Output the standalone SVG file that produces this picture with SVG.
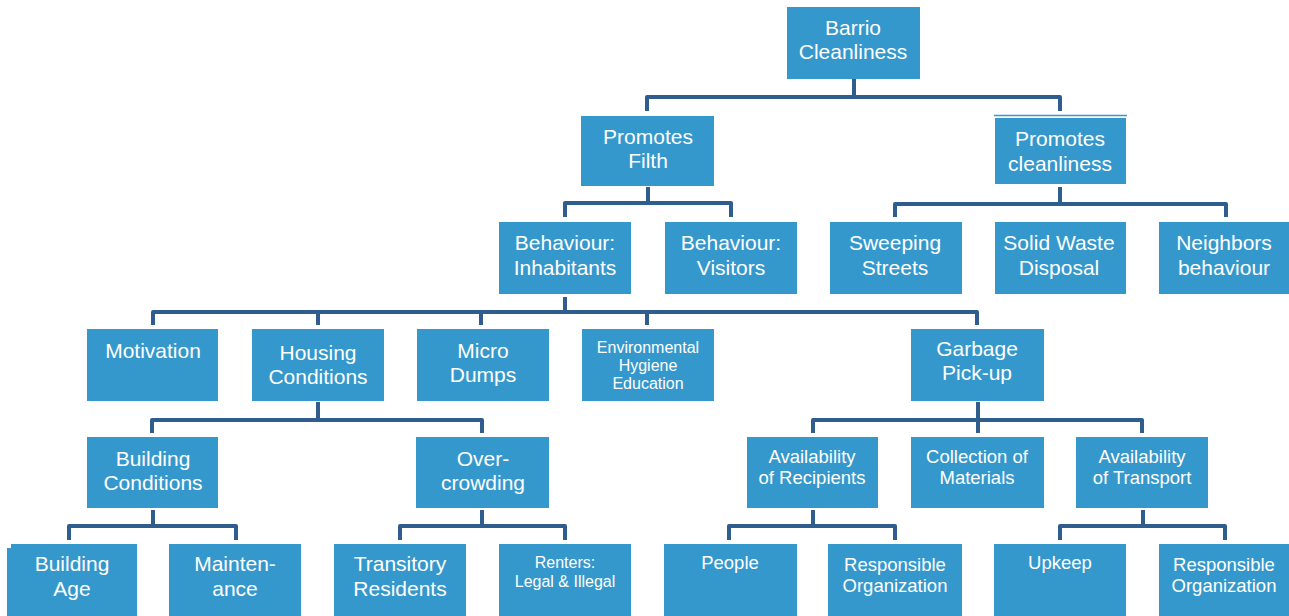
<svg xmlns="http://www.w3.org/2000/svg" width="1289" height="616" viewBox="0 0 1289 616">
<style>
.box{fill:#3598CC}
.t{font-family:"Liberation Sans",Arial,sans-serif;fill:#FFFFFF;text-anchor:middle}
.l{font-size:21px}
.m{font-size:18.5px}
.s{font-size:16px}
.c{fill:none;stroke:#2F5E8E;stroke-width:4;stroke-linejoin:round}
</style>
<rect width="1289" height="616" fill="#FFFFFF"/>
<g id="connectors">
<path class="c" d="M854 79 V97 M647 111 V97 H1060 V111"/>
<path class="c" d="M648 187 V203 M565 217 V203 H731 V217"/>
<path class="c" d="M1060 187 V204 M895 217 V204 H1226 V217"/>
<path class="c" d="M565 297 V312 M153 325 V312 H977 V325 M318 312 V325 M481 312 V325 M647 312 V325"/>
<path class="c" d="M318 402 V420 M152 433 V420 H482 V433"/>
<path class="c" d="M978 402 V433 M813 433 V420 H1142 V433"/>
<path class="c" d="M153 510 V526 M69 540 V526 H236 V540"/>
<path class="c" d="M482 510 V526 M400 540 V526 H565 V540"/>
<path class="c" d="M813 510 V526 M729 540 V526 H895 V540"/>
<path class="c" d="M1143 510 V526 M1060 540 V526 H1225 V540"/>
</g>
<g id="barrio"><rect class="box" x="787" y="7" width="133" height="72"/><text class="t l" x="853" y="35">Barrio</text><text class="t l" x="853" y="59">Cleanliness</text></g>
<g id="promotes-filth"><rect class="box" x="581" y="116" width="133" height="70"/><text class="t l" x="648" y="144">Promotes</text><text class="t l" x="648" y="168">Filth</text></g>
<g id="promotes-cleanliness"><line x1="994" y1="115.5" x2="1127" y2="115.5" stroke="#3598CC" stroke-width="1.5"/><rect class="box" x="995" y="118" width="131" height="66"/><text class="t l" x="1060" y="146">Promotes</text><text class="t l" x="1060" y="171">cleanliness</text></g>
<g id="behaviour-inhabitants"><rect class="box" x="499" y="222" width="132" height="72"/><text class="t l" x="565" y="250">Behaviour:</text><text class="t l" x="565" y="275">Inhabitants</text></g>
<g id="behaviour-visitors"><rect class="box" x="665" y="222" width="132" height="72"/><text class="t l" x="731" y="250">Behaviour:</text><text class="t l" x="731" y="275">Visitors</text></g>
<g id="sweeping-streets"><rect class="box" x="830" y="222" width="132" height="72"/><text class="t l" x="895" y="250">Sweeping</text><text class="t l" x="895" y="275">Streets</text></g>
<g id="solid-waste"><rect class="box" x="995" y="222" width="131" height="72"/><text class="t l" x="1059" y="250">Solid Waste</text><text class="t l" x="1059" y="275">Disposal</text></g>
<g id="neighbors"><rect class="box" x="1159" y="222" width="130" height="72"/><text class="t l" x="1224" y="250">Neighbors</text><text class="t l" x="1224" y="275">behaviour</text></g>
<g id="motivation"><rect class="box" x="87" y="329" width="131" height="72"/><text class="t l" x="153" y="358">Motivation</text></g>
<g id="housing"><rect class="box" x="252" y="329" width="132" height="72"/><text class="t l" x="318" y="360">Housing</text><text class="t l" x="318" y="384">Conditions</text></g>
<g id="micro-dumps"><rect class="box" x="417" y="329" width="132" height="72"/><text class="t l" x="483" y="358">Micro</text><text class="t l" x="483" y="382">Dumps</text></g>
<g id="env-hygiene"><rect class="box" x="582" y="329" width="132" height="72"/><text class="t s" x="648" y="353">Environmental</text><text class="t s" x="648" y="371">Hygiene</text><text class="t s" x="648" y="389">Education</text></g>
<g id="garbage"><rect class="box" x="911" y="329" width="133" height="72"/><text class="t l" x="977" y="356">Garbage</text><text class="t l" x="977" y="380">Pick-up</text></g>
<g id="building-conditions"><rect class="box" x="87" y="437" width="131" height="71"/><text class="t l" x="153" y="466">Building</text><text class="t l" x="153" y="490">Conditions</text></g>
<g id="overcrowding"><rect class="box" x="416" y="437" width="133" height="71"/><text class="t l" x="483" y="466">Over-</text><text class="t l" x="483" y="490">crowding</text></g>
<g id="avail-recipients"><rect class="box" x="747" y="437" width="131" height="71"/><text class="t m" x="812" y="463">Availability</text><text class="t m" x="812" y="484">of Recipients</text></g>
<g id="collection"><rect class="box" x="911" y="437" width="133" height="71"/><text class="t m" x="977" y="463">Collection of</text><text class="t m" x="977" y="484">Materials</text></g>
<g id="avail-transport"><rect class="box" x="1076" y="437" width="132" height="71"/><text class="t m" x="1142" y="463">Availability</text><text class="t m" x="1142" y="484">of Transport</text></g>
<g id="building-age"><rect class="box" x="7" y="548" width="130" height="68"/><rect class="box" x="11" y="544" width="126" height="8"/><text class="t l" x="72" y="571">Building</text><text class="t l" x="72" y="596">Age</text></g>
<g id="maintenance"><rect class="box" x="169" y="544" width="132" height="72"/><text class="t l" x="235" y="571">Mainten-</text><text class="t l" x="235" y="596">ance</text></g>
<g id="transitory"><rect class="box" x="334" y="544" width="132" height="72"/><text class="t l" x="400" y="571">Transitory</text><text class="t l" x="400" y="596">Residents</text></g>
<g id="renters"><rect class="box" x="499" y="544" width="132" height="72"/><text class="t s" x="565" y="568">Renters:</text><text class="t s" x="565" y="587">Legal &amp; Illegal</text></g>
<g id="people"><rect class="box" x="664" y="544" width="133" height="72"/><text class="t m" x="730" y="569">People</text></g>
<g id="responsible-org-1"><rect class="box" x="828" y="544" width="134" height="72"/><text class="t m" x="895" y="571">Responsible</text><text class="t m" x="895" y="592">Organization</text></g>
<g id="upkeep"><rect class="box" x="994" y="544" width="132" height="72"/><text class="t m" x="1060" y="569">Upkeep</text></g>
<g id="responsible-org-2"><rect class="box" x="1159" y="544" width="130" height="72"/><text class="t m" x="1224" y="571">Responsible</text><text class="t m" x="1224" y="592">Organization</text></g>
</svg>
